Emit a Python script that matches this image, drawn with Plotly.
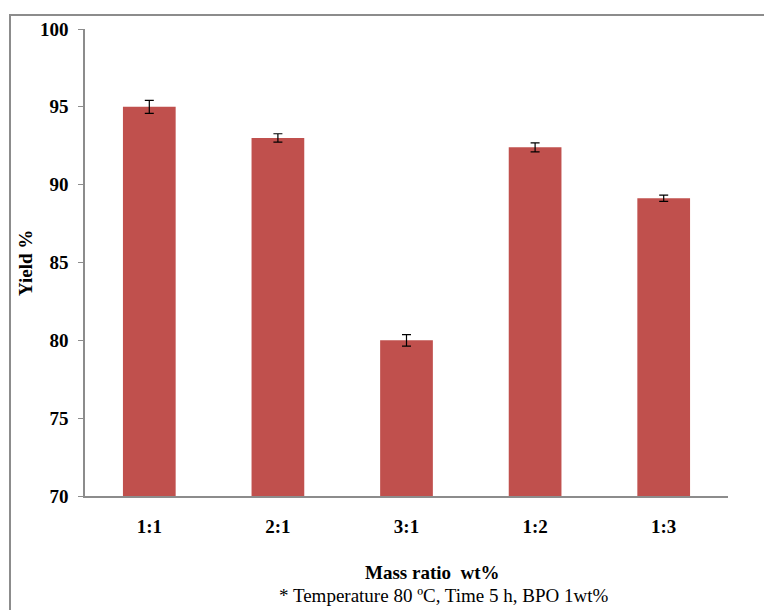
import plotly.graph_objects as go

categories = ["1:1", "2:1", "3:1", "1:2", "1:3"]
yield_pct = [95.0, 93.0, 80.0, 92.4, 89.13]
yield_err = [0.42, 0.27, 0.37, 0.29, 0.2]
y_ticks = [70, 75, 80, 85, 90, 95, 100]

FONT = "Liberation Serif"
W, H = 764, 610
L, R, T, B = 85, 36, 29, 114
pw, ph = W - L - R, H - T - B

def px_to_paper_x(px):
    return (px - L) / pw

def px_to_paper_y(py):
    return 1 - (py - T) / ph

fig = go.Figure()
fig.add_trace(go.Bar(
    x=categories, y=yield_pct,
    marker=dict(color="#C0504D", line=dict(width=0)),
    error_y=dict(type="data", array=yield_err, visible=True,
                 color="black", thickness=1.2, width=4.5),
))

fig.update_layout(
    width=W, height=H,
    margin=dict(l=L, r=R, t=T, b=B),
    paper_bgcolor="white", plot_bgcolor="white",
    showlegend=False,
    bargap=0.59,
    font=dict(family=FONT, color="black"),
    xaxis=dict(
        showline=True, linecolor="#8c8c8c", linewidth=1.5,
        ticks="", showgrid=False,
        tickfont=dict(family=FONT, size=19, color="black", weight="bold"),
        ticklabelstandoff=12,
    ),
    yaxis=dict(
        range=[70, 100], tickvals=y_ticks,
        showline=True, linecolor="#8c8c8c", linewidth=1.5,
        ticks="outside", ticklen=5, tickcolor="#8c8c8c", tickwidth=1.2,
        showgrid=False, zeroline=False,
        tickfont=dict(family=FONT, size=19, color="black", weight="bold"),
        ticklabelstandoff=6,
    ),
    shapes=[dict(
        type="rect", xref="paper", yref="paper",
        x0=px_to_paper_x(10), x1=px_to_paper_x(800),
        y0=px_to_paper_y(650), y1=px_to_paper_y(15),
        line=dict(color="#8c8c8c", width=2), fillcolor="rgba(0,0,0,0)",
        layer="below",
    )],
    annotations=[
        dict(text="<b>Yield %</b>", xref="paper", yref="paper",
             x=px_to_paper_x(25), y=px_to_paper_y(263), textangle=-90,
             showarrow=False, font=dict(family=FONT, size=19, color="black"),
             xanchor="center", yanchor="middle"),
        dict(text="<b>Mass ratio\u00a0\u00a0wt%</b>", xref="paper", yref="paper",
             x=px_to_paper_x(432), y=px_to_paper_y(572),
             showarrow=False, font=dict(family=FONT, size=19, color="black"),
             xanchor="center", yanchor="middle"),
        dict(text="* Temperature 80 ºC, Time 5 h, BPO 1wt%", xref="paper", yref="paper",
             x=px_to_paper_x(443), y=px_to_paper_y(595),
             showarrow=False, font=dict(family=FONT, size=19, color="black"),
             xanchor="center", yanchor="middle"),
    ],
)

fig.write_html("out.html")
